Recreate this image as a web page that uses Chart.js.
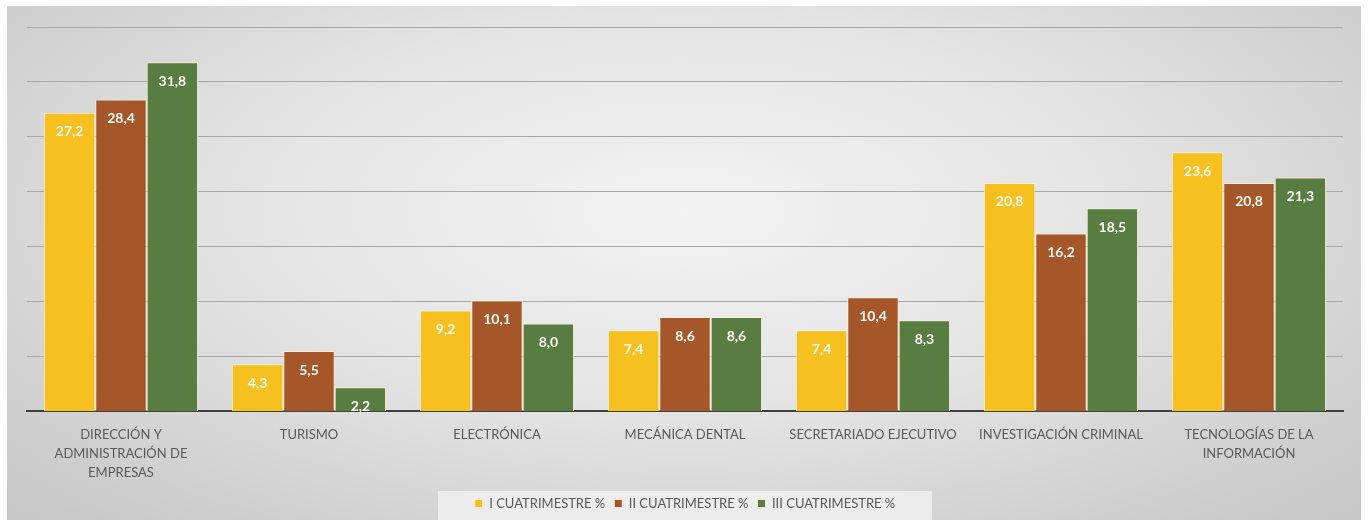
<!DOCTYPE html>
<html>
<head>
<meta charset="utf-8">
<script src="https://cdn.jsdelivr.net/npm/chart.js@4/dist/chart.umd.min.js"></script>
<style>
  html, body { margin: 0; padding: 0; background: #ffffff; }
  #frame {
    position: absolute; left: 7px; top: 6px; width: 1354px; height: 514px;
    background: radial-gradient(ellipse at 50% 40%, #f3f3f3 0%, #e4e4e4 45%, #c6c6c6 100%);
  }
  #frame canvas { display: block; }
</style>
</head>
<body>
<div id="frame"><canvas id="Chart" width="1354" height="514"></canvas></div>
<script>
// categories and series
const categories = [
    ["DIRECCIÓN Y", "ADMINISTRACIÓN DE", "EMPRESAS"],
    "TURISMO",
    "ELECTRÓNICA",
    "MECÁNICA DENTAL",
    "SECRETARIADO EJECUTIVO",
    "INVESTIGACIÓN CRIMINAL",
    ["TECNOLOGÍAS DE LA", "INFORMACIÓN"]
];
const seriesNames = ["I CUATRIMESTRE %", "II CUATRIMESTRE %", "III CUATRIMESTRE %"];
const cuatri1 = [27.2, 4.3, 9.2, 7.4, 7.4, 20.8, 23.6];
const cuatri2 = [28.4, 5.5, 10.1, 8.6, 10.4, 16.2, 20.8];
const cuatri3 = [31.8, 2.2, 8.0, 8.6, 8.3, 18.5, 21.3];
const barColors = ["#f6c01f", "#a5572a", "#587d40"];

// draws the value inside the top of each bar (comma decimal)
const valueLabels = {
    id: 'valueLabels',
    afterDatasetsDraw(chart) {
        const ctx = chart.ctx;
        ctx.save();
        ctx.font = 'bold 14px Lato, "Open Sans", sans-serif';
        ctx.fillStyle = '#fbfaf5';
        ctx.textAlign = 'center';
        ctx.textBaseline = 'middle';
        chart.data.datasets.forEach((ds, i) => {
            chart.getDatasetMeta(i).data.forEach((bar, j) => {
                const txt = ds.data[j].toFixed(1).replace('.', ',');
                ctx.fillText(txt, bar.x, bar.y + 19);
            });
        });
        ctx.restore();
    }
};

// light box behind the legend
const legendBox = {
    id: 'legendBox',
    beforeDraw(chart) {
        const lg = chart.legend;
        if (!lg) return;
        const ctx = chart.ctx;
        ctx.save();
        ctx.fillStyle = 'rgba(240,240,240,0.85)';
        ctx.fillRect(lg.left + (lg.width - 494) / 2, lg.top + 3, 494, lg.height - 3);
        ctx.restore();
    }
};

const ctx = document.getElementById('Chart').getContext('2d');
const myChart = new Chart(ctx, {
    type: 'bar',
    data: {
        labels: categories,
        datasets: [cuatri1, cuatri2, cuatri3].map((d, i) => ({
            label: seriesNames[i],
            data: d,
            backgroundColor: barColors[i],
            borderColor: 'rgba(255,238,215,0.9)',
            borderWidth: 1,
            categoryPercentage: 0.82,
            barPercentage: 1.0
        }))
    },
    options: {
        responsive: false,
        animation: false,
        layout: { padding: { left: 20, right: 18, top: 21, bottom: 0 } },
        plugins: {
            tooltip: { enabled: false },
            legend: {
                position: 'bottom',
                labels: {
                    boxWidth: 8,
                    boxHeight: 8,
                    padding: 9,
                    color: '#595959',
                    font: { family: 'Lato, "Open Sans", sans-serif', size: 13 }
                }
            }
        },
        scales: {
            x: {
                grid: { display: false },
                border: { display: true, color: '#404040', width: 2 },
                ticks: {
                    color: '#595959',
                    maxRotation: 0,
                    autoSkip: false,
                    padding: 6,
                    font: { family: 'Lato, "Open Sans", sans-serif', size: 13, lineHeight: 1.45 }
                }
            },
            y: {
                min: 0,
                max: 35,
                ticks: { display: false, stepSize: 5 },
                border: { display: false },
                grid: { color: '#a8a8a8', lineWidth: 1, drawTicks: false }
            }
        }
    },
    plugins: [legendBox, valueLabels]
});
</script>
</body>
</html>
